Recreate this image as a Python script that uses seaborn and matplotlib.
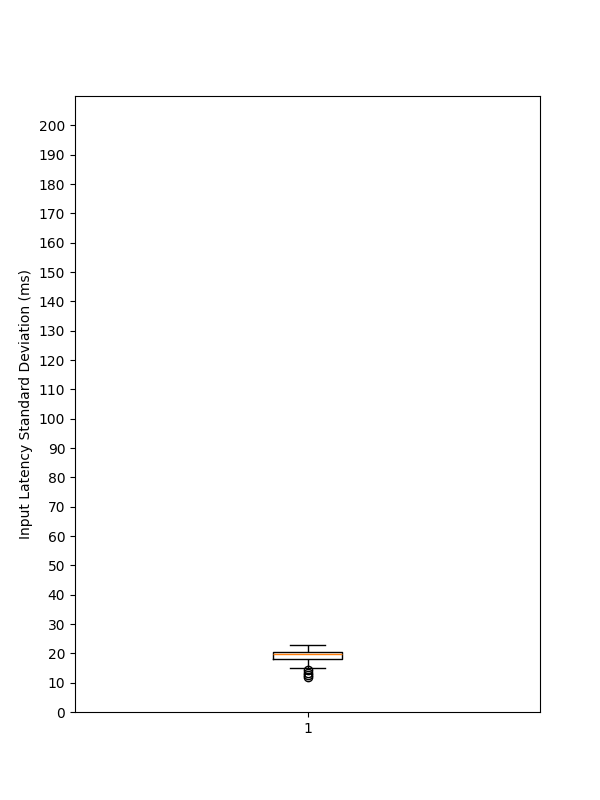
import pandas as pd
import seaborn as sns
from matplotlib import pyplot as plt

# per-run input latency std dev (ms)
latency_std = [12.0, 12.5, 13.3, 14.2, 14.9,
               16.5, 17.4, 18.0, 18.3, 18.6, 18.9, 19.1, 19.4, 19.6, 19.8,
               19.9, 20.0, 20.0, 20.1, 20.2, 20.3, 20.3, 20.5, 20.8, 21.2,
               21.6, 22.0, 22.4, 22.8]
group_labels = ["1"] * len(latency_std)
y_ticks = list(range(0, 201, 10))

df = pd.DataFrame({"group": group_labels, "std": latency_std})

fig, ax = plt.subplots(figsize=(6, 8), dpi=100)
sns.boxplot(data=df, x="group", y="std", ax=ax, width=0.15, fill=False,
            color="black", linewidth=1,
            medianprops=dict(color="#ff7f0e", linewidth=1),
            flierprops=dict(marker="o", markerfacecolor="none",
                            markeredgecolor="black", markersize=6),
            capprops=dict(color="black"))
ax.set_xlim(-0.5, 0.5)
ax.set_ylim(0, 210)
ax.set_yticks(y_ticks)
ax.set_xlabel("")
ax.set_ylabel("Input Latency Standard Deviation (ms)")

plt.savefig("out.png")
plt.close()
